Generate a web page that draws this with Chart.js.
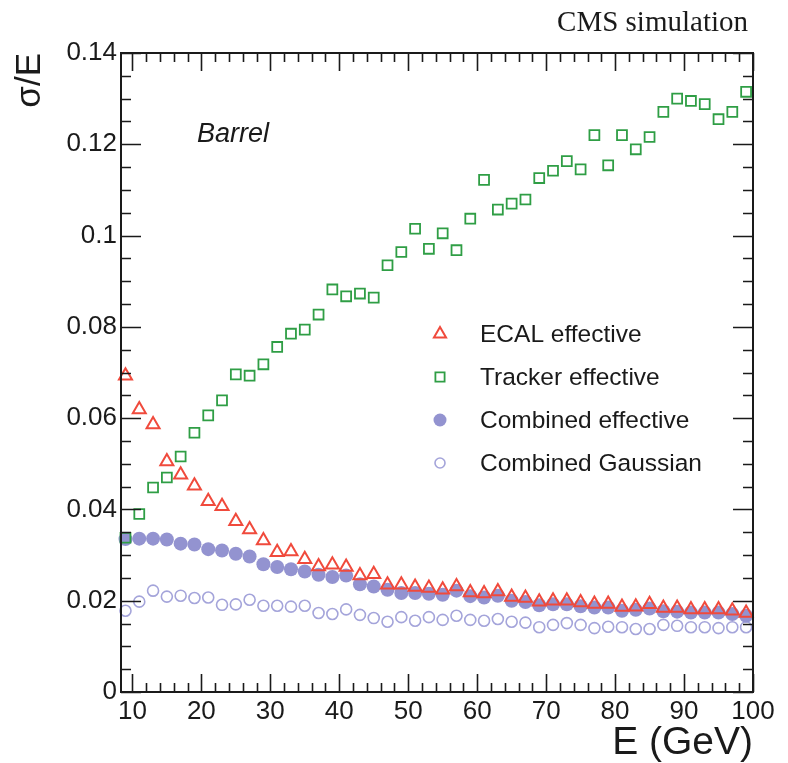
<!DOCTYPE html>
<html>
<head>
<meta charset="utf-8">
<script src="https://cdn.jsdelivr.net/npm/chart.js@4.4.1/dist/chart.umd.min.js"></script>
<style>
    html, body { margin: 0; padding: 0; background: #fff; }
    canvas { display: block; }
</style>
</head>
<body>
<canvas id="resolutionChart" width="788" height="763"></canvas>
<script>
// Energy bins (GeV) and sigma/E per series
const energies = [9, 11, 13, 15, 17, 19, 21, 23, 25, 27, 29, 31, 33, 35, 37, 39, 41, 43, 45, 47, 49, 51, 53,
    55, 57, 59, 61, 63, 65, 67, 69, 71, 73, 75, 77, 79, 81, 83, 85, 87, 89, 91, 93, 95, 97, 99];

const ecalEffective = [0.0693, 0.0619, 0.0586, 0.0505, 0.0476, 0.0452, 0.0418, 0.0407, 0.0374, 0.0356, 0.0332,
    0.0306, 0.0308, 0.0291, 0.0275, 0.0279, 0.0274, 0.0255, 0.0258, 0.0235, 0.0235, 0.0230, 0.0228, 0.0224,
    0.0231, 0.0218, 0.0216, 0.0220, 0.0208, 0.0206, 0.0198, 0.0200, 0.0200, 0.0196, 0.0193, 0.0193, 0.0186,
    0.0187, 0.0192, 0.0184, 0.0184, 0.0181, 0.0181, 0.0181, 0.0178, 0.0173];

const trackerEffective = [0.0338, 0.0390, 0.0448, 0.0470, 0.0516, 0.0568, 0.0606, 0.0639, 0.0696, 0.0693, 0.0718,
    0.0756, 0.0785, 0.0794, 0.0827, 0.0882, 0.0867, 0.0873, 0.0864, 0.0935, 0.0964, 0.1015, 0.0971, 0.1005,
    0.0968, 0.1037, 0.1122, 0.1057, 0.1070, 0.1079, 0.1126, 0.1142, 0.1163, 0.1145, 0.1220, 0.1154, 0.1220,
    0.1189, 0.1216, 0.1271, 0.1300, 0.1295, 0.1288, 0.1255, 0.1271, 0.1315];

const combinedEffective = [0.0335, 0.0336, 0.0336, 0.0334, 0.0325, 0.0323, 0.0313, 0.0310, 0.0303, 0.0297, 0.0280,
    0.0274, 0.0269, 0.0264, 0.0257, 0.0252, 0.0255, 0.0236, 0.0231, 0.0224, 0.0217, 0.0217, 0.0215, 0.0213,
    0.0222, 0.0210, 0.0207, 0.0211, 0.0200, 0.0197, 0.0190, 0.0192, 0.0192, 0.0188, 0.0185, 0.0185, 0.0178,
    0.0180, 0.0183, 0.0177, 0.0176, 0.0174, 0.0174, 0.0174, 0.0171, 0.0167];

const combinedGaussian = [0.0178, 0.0198, 0.0222, 0.0209, 0.0211, 0.0206, 0.0207, 0.0191, 0.0192, 0.0202, 0.0189,
    0.0189, 0.0187, 0.0189, 0.0173, 0.0171, 0.0181, 0.0169, 0.0162, 0.0154, 0.0164, 0.0156, 0.0164, 0.0158,
    0.0167, 0.0158, 0.0156, 0.0160, 0.0154, 0.0152, 0.0142, 0.0147, 0.0151, 0.0147, 0.0140, 0.0143, 0.0142,
    0.0138, 0.0138, 0.0147, 0.0145, 0.0142, 0.0142, 0.0140, 0.0142, 0.0142];

const seriesNames = ['ECAL effective', 'Tracker effective', 'Combined effective', 'Combined Gaussian'];

const xTickValues = [10, 20, 30, 40, 50, 60, 70, 80, 90, 100];
const yTickValues = [0, 0.02, 0.04, 0.06, 0.08, 0.1, 0.12, 0.14];

const AXIS_FONT = '"Liberation Sans", Arial, sans-serif';
const INK = '#1a1a1a';

function toPoints(values) {
    return energies.map((e, i) => ({ x: e, y: values[i] }));
}

// ROOT-style frame with inward ticks on all four sides
const frameTicks = {
    id: 'frameTicks',
    afterDatasetsDraw(chart) {
        const { ctx, chartArea: a, scales: { x, y } } = chart;
        ctx.save();
        ctx.strokeStyle = INK;
        ctx.lineWidth = 1.6;
        ctx.beginPath();
        for (let v = 10; v <= 100.001; v += 2) {
            const px = Math.round(x.getPixelForValue(v)) + 0.5;
            const len = Math.round(v) % 10 === 0 ? 18 : 9;
            ctx.moveTo(px, a.bottom); ctx.lineTo(px, a.bottom - len);
            ctx.moveTo(px, a.top); ctx.lineTo(px, a.top + len);
        }
        for (let i = 0; i <= 28; i++) {
            const py = Math.round(y.getPixelForValue(i * 0.005)) + 0.5;
            const len = i % 4 === 0 ? 20 : 10;
            ctx.moveTo(a.left, py); ctx.lineTo(a.left + len, py);
            ctx.moveTo(a.right, py); ctx.lineTo(a.right - len, py);
        }
        ctx.stroke();
        ctx.lineWidth = 2;
        ctx.strokeRect(a.left, a.top, a.right - a.left, a.bottom - a.top);
        ctx.restore();
    }
};

// Legend box and text annotations
const annotations = {
    id: 'annotations',
    afterDraw(chart) {
        const { ctx } = chart;
        ctx.save();
        ctx.fillStyle = INK;
        ctx.textBaseline = 'alphabetic';
        ctx.font = 'italic 27px ' + AXIS_FONT;
        ctx.textAlign = 'left';
        ctx.fillText('Barrel', 197, 142);

        ctx.font = '29px "Liberation Serif", "Times New Roman", serif';
        ctx.textAlign = 'right';
        ctx.fillText('CMS simulation', 748, 31);

        const rows = [334, 377, 420, 463];
        ctx.font = '24.5px ' + AXIS_FONT;
        ctx.textAlign = 'left';
        ctx.textBaseline = 'middle';
        chart.data.datasets.forEach((ds, i) => {
            ctx.fillStyle = ds.backgroundColor;
            ctx.strokeStyle = ds.borderColor;
            ctx.lineWidth = ds.borderWidth;
            Chart.helpers.drawPoint(ctx, {
                pointStyle: ds.pointStyle,
                radius: ds.legendRadius,
                rotation: 0,
                borderWidth: ds.borderWidth
            }, 440, rows[i]);
            ctx.fillStyle = INK;
            ctx.fillText(ds.label, 480, rows[i] + 1);
        });
        ctx.restore();
    }
};

document.addEventListener('DOMContentLoaded', function() {
    const ctx = document.getElementById('resolutionChart').getContext('2d');
    new Chart(ctx, {
        type: 'scatter',
        data: {
            datasets: [{
                label: seriesNames[0],
                data: toPoints(ecalEffective),
                pointStyle: 'triangle',
                pointRadius: 7.5,
                legendRadius: 7,
                backgroundColor: 'rgba(0,0,0,0)',
                borderColor: '#f04a3c',
                borderWidth: 2
            }, {
                label: seriesNames[1],
                data: toPoints(trackerEffective),
                pointStyle: 'rect',
                pointRadius: 7,
                legendRadius: 6.5,
                backgroundColor: 'rgba(0,0,0,0)',
                borderColor: '#2f9e45',
                borderWidth: 1.8
            }, {
                label: seriesNames[2],
                data: toPoints(combinedEffective),
                pointStyle: 'circle',
                pointRadius: 7,
                legendRadius: 6.5,
                backgroundColor: '#9393d0',
                borderColor: '#9393d0',
                borderWidth: 0
            }, {
                label: seriesNames[3],
                data: toPoints(combinedGaussian),
                pointStyle: 'circle',
                pointRadius: 5.5,
                legendRadius: 5,
                backgroundColor: 'rgba(0,0,0,0)',
                borderColor: '#a4a4da',
                borderWidth: 1.6
            }]
        },
        options: {
            responsive: false,
            animation: false,
            clip: false,
            layout: {
                padding: { left: 0, top: 53, right: 35, bottom: 0 }
            },
            plugins: {
                legend: { display: false },
                tooltip: { enabled: false }
            },
            scales: {
                x: {
                    type: 'linear',
                    min: 8.35,
                    max: 100,
                    afterFit: function(scale) { scale.height = 71; },
                    afterBuildTicks: function(scale) {
                        scale.ticks = xTickValues.map(v => ({ value: v }));
                    },
                    grid: { display: false, drawTicks: false },
                    border: { display: false },
                    ticks: {
                        autoSkip: false,
                        maxRotation: 0,
                        padding: 4,
                        color: INK,
                        font: { family: AXIS_FONT, size: 26 }
                    },
                    title: {
                        display: true,
                        text: 'E (GeV)',
                        align: 'end',
                        color: INK,
                        padding: { top: 0, bottom: 0 },
                        font: { family: AXIS_FONT, size: 39, lineHeight: 1.0 }
                    }
                },
                y: {
                    type: 'linear',
                    min: 0,
                    max: 0.14,
                    afterFit: function(scale) { scale.width = 121; },
                    afterBuildTicks: function(scale) {
                        scale.ticks = yTickValues.map(v => ({ value: v }));
                    },
                    grid: { display: false, drawTicks: false },
                    border: { display: false },
                    ticks: {
                        padding: 4,
                        color: INK,
                        font: { family: AXIS_FONT, size: 26 },
                        callback: function(value) {
                            return String(+value.toFixed(2));
                        }
                    },
                    title: {
                        display: true,
                        text: 'σ/E',
                        align: 'end',
                        color: INK,
                        padding: { top: 13, bottom: 0 },
                        font: { family: AXIS_FONT, size: 35, lineHeight: 1.0 }
                    }
                }
            }
        },
        plugins: [frameTicks, annotations]
    });
});
</script>
</body>
</html>
